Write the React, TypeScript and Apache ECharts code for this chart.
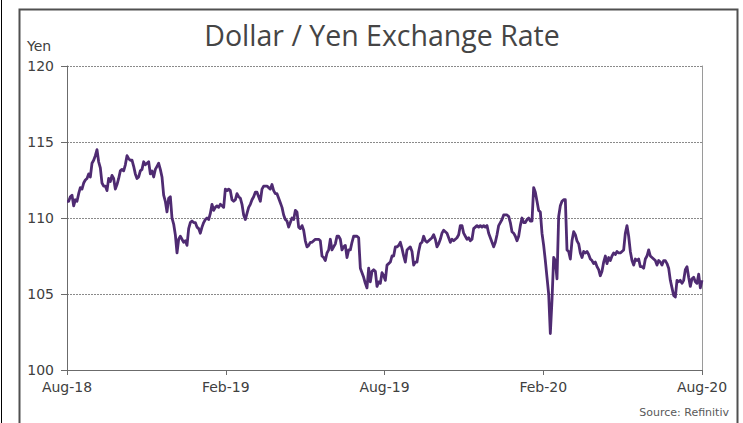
import React, { useEffect, useRef } from "react";
import * as echarts from "echarts";

const titleText = "Dollar / Yen Exchange Rate";
const unitText = "Yen";
const sourceText = "Source: Refinitiv";
const tickLabels = ["Aug-18", "Feb-19", "Aug-19", "Feb-20", "Aug-20"];
const monthsSpan = 24;
const monthsPerTick = 6;
const yMin = 100;
const yMax = 120;
const yStep = 5;

// Yen per dollar, evenly spaced readings from Aug-18 onwards
const rateFirstPart = [
  111.1, 111.1, 111.4, 111.5, 110.8, 111.2, 111.1, 111.6, 112.0, 111.9,
  112.3, 112.5, 112.6, 112.9, 112.7, 113.6, 113.8, 114.1, 114.5, 113.7,
  113.3, 112.3, 112.1, 112.1, 111.8, 112.6, 112.4, 112.8, 112.6, 111.9,
  112.2, 112.6, 113.1, 113.2, 113.1, 113.5, 114.1, 113.9, 113.8, 113.8,
  113.4, 112.9, 112.6, 112.7, 113.1, 113.2, 113.7, 113.5, 113.6, 113.7,
  112.9, 113.1, 112.7, 113.2, 113.4, 113.6, 113.2, 112.7, 111.5, 111.1,
  110.4, 111.3, 111.4, 110.0, 109.6, 108.9, 107.7, 108.6, 108.8, 108.6,
  108.4, 108.5, 108.2, 109.3, 109.7, 109.8, 109.7, 109.7, 109.4, 109.3,
  109.0, 109.4, 109.7, 109.9, 110.0, 109.9, 110.3, 110.9, 110.5, 110.7,
  110.8, 110.7, 110.9, 110.8, 110.7, 111.9, 111.8, 111.9, 111.8, 111.2,
  111.1, 111.2, 111.6, 111.4, 111.3, 110.9, 110.2, 109.9, 110.3, 110.7,
  110.9, 111.2, 111.4, 111.7, 111.7, 111.4, 111.1, 111.9, 112.1, 112.1,
  112.1, 112.0, 111.9, 112.2, 111.8, 111.6, 111.6, 111.3, 111.0, 110.7,
  110.2, 109.9, 109.8, 109.4, 109.7, 110.0, 109.9, 110.5, 110.4, 109.4,
  109.3, 109.5, 109.2, 108.5, 108.1, 108.2, 108.4, 108.4, 108.5, 108.6,
  108.6, 108.6, 108.5, 107.5, 107.4, 107.2, 107.7, 107.9, 108.6, 107.9,
  108.1, 108.3, 108.8, 108.8, 108.6, 107.9, 108.1, 108.2, 107.4, 107.9,
  107.9, 108.4, 108.8, 108.8, 108.8, 108.7, 106.7, 106.4, 106.1, 105.7,
  105.4, 106.7, 105.8, 106.5, 106.6, 106.5, 105.5, 105.8, 105.7, 106.4,
  106.2, 105.9, 106.9, 107.0, 107.1, 107.5,
];

const rateSecondPart = [
  107.5, 108.1, 108.1, 108.2, 108.4, 108.0, 107.5, 107.1, 107.9, 108.0,
  108.1, 107.8, 106.9, 107.1, 107.1, 107.8, 108.3, 108.4, 108.8, 108.5,
  108.4, 108.5, 108.6, 108.7, 108.9, 108.6, 108.1, 108.3, 108.6, 109.0,
  109.2, 109.1, 109.0, 108.7, 108.4, 108.6, 108.5, 108.6, 108.7, 108.9,
  109.5, 109.5, 109.0, 108.8, 108.6, 108.7, 108.5, 108.6, 109.3, 109.4,
  109.5, 109.4, 109.5, 109.4, 109.5, 109.4, 109.5, 109.0, 108.7, 108.4,
  108.1, 108.4, 108.9, 109.5, 109.7, 109.9, 110.2, 110.2, 110.2, 110.1,
  109.7, 109.1, 109.0, 108.8, 108.5, 108.8, 109.5, 110.0, 109.7, 109.7,
  109.9, 110.0, 109.8, 109.8, 112.0, 111.7, 111.1, 110.5, 110.4, 109.0,
  108.2, 107.2, 106.1, 105.0, 102.4, 104.6, 107.4, 107.2, 106.0, 110.1,
  110.8, 111.1, 111.2, 111.2, 107.9, 107.8, 107.3, 108.5, 109.1, 108.9,
  108.5, 108.3, 107.7, 107.4, 107.8, 107.7, 107.8, 107.6, 107.3, 107.2,
  107.0, 107.1, 106.8, 106.6, 106.2, 106.5, 107.1, 107.5, 107.0, 107.4,
  107.2, 107.5, 107.7, 107.6, 107.8, 107.7, 107.7, 107.8, 107.9, 109.0,
  109.5, 108.8, 107.8, 107.2, 106.9, 107.3, 107.2, 107.3, 106.8, 106.8,
  106.7, 107.3, 107.5, 107.9, 107.5, 107.4, 107.3, 107.2, 106.9, 107.2,
  107.1, 106.9, 107.2, 107.2, 107.0, 106.7, 105.9, 105.4, 104.9, 104.8,
  105.9, 105.8, 105.9, 105.7, 105.9, 106.6, 106.8, 106.1, 105.5, 106.0,
  106.1, 105.8, 105.7, 106.3, 105.4, 105.9,
];

const labelFont = "'DejaVu Sans', Verdana, sans-serif";

export default function App() {
  const ref = useRef<HTMLDivElement>(null);

  useEffect(() => {
    if (!ref.current) return;
    const chart = echarts.init(ref.current, undefined, { renderer: "svg" });
    const rates = rateFirstPart.concat(rateSecondPart);
    const n = rates.length;
    const seriesData = rates.map((v, i) => [(i * monthsSpan) / (n - 1), v]);

    const axisColor = "#6b6b6b";
    const textColor = "#404040";

    chart.setOption({
      animation: false,
      backgroundColor: "#ffffff",
      grid: { left: 67, right: 41, top: 66, bottom: 53, containLabel: false },
      xAxis: {
        type: "value",
        min: 0,
        max: monthsSpan,
        interval: monthsPerTick,
        axisLine: { show: true, onZero: false, lineStyle: { color: axisColor, width: 1 } },
        axisTick: { show: true, length: 5, lineStyle: { color: axisColor } },
        axisLabel: {
          formatter: (v: number) => tickLabels[Math.round(v / monthsPerTick)] ?? "",
          color: textColor,
          fontSize: 14,
          fontFamily: labelFont,
          margin: 10,
          showMinLabel: true,
          showMaxLabel: true,
        },
        splitLine: { show: false },
      },
      yAxis: [
        {
          type: "value",
          min: yMin,
          max: yMax,
          interval: yStep,
          axisLine: { show: true, lineStyle: { color: axisColor, width: 1 } },
          axisTick: { show: true, length: 6, lineStyle: { color: axisColor } },
          axisLabel: {
            color: textColor,
            fontSize: 14,
            fontFamily: labelFont,
            margin: 13,
          },
          splitLine: {
            show: true,
            lineStyle: { color: "#8a8a8a", width: 1, type: [2, 1] },
          },
        },
        {
          type: "value",
          position: "right",
          min: yMin,
          max: yMax,
          interval: yStep,
          axisLine: { show: true, lineStyle: { color: "#9a9a9a", width: 1 } },
          axisTick: { show: false },
          axisLabel: { show: false },
          splitLine: { show: false },
        },
      ],
      series: [
        {
          type: "line",
          data: seriesData,
          showSymbol: false,
          symbol: "none",
          yAxisIndex: 0,
          lineStyle: { color: "#4f2b72", width: 2.8, join: "round" },
          z: 5,
        },
      ],
      graphic: [
        {
          type: "line",
          shape: { x1: 1.5, y1: 0, x2: 1.5, y2: 423 },
          style: { stroke: "#000000", lineWidth: 1 },
          silent: true,
        },
        {
          type: "polyline",
          shape: { points: [[19.5, 423], [19.5, 9.5], [737.5, 9.5], [737.5, 423]] },
          style: { stroke: "#505050", lineWidth: 2, fill: null },
          silent: true,
        },
        {
          type: "text",
          x: 382,
          y: 35,
          style: {
            text: titleText,
            fontSize: 28.5,
            fontFamily: "'Open Sans', Lato, sans-serif",
            fill: "#454545",
            align: "center",
            verticalAlign: "middle",
          },
        },
        {
          type: "text",
          x: 27,
          y: 46,
          style: {
            text: unitText,
            fontSize: 14,
            fontFamily: labelFont,
            fill: textColor,
            align: "left",
            verticalAlign: "middle",
          },
        },
        {
          type: "text",
          x: 729,
          y: 412,
          style: {
            text: sourceText,
            fontSize: 11,
            fontFamily: labelFont,
            fill: "#595959",
            align: "right",
            verticalAlign: "middle",
          },
        },
      ],
    });

    return () => chart.dispose();
  }, []);

  return (
    <div
      ref={ref}
      style={{ position: "fixed", left: 0, top: 0, width: 743, height: 423, background: "#fff" }}
    />
  );
}
